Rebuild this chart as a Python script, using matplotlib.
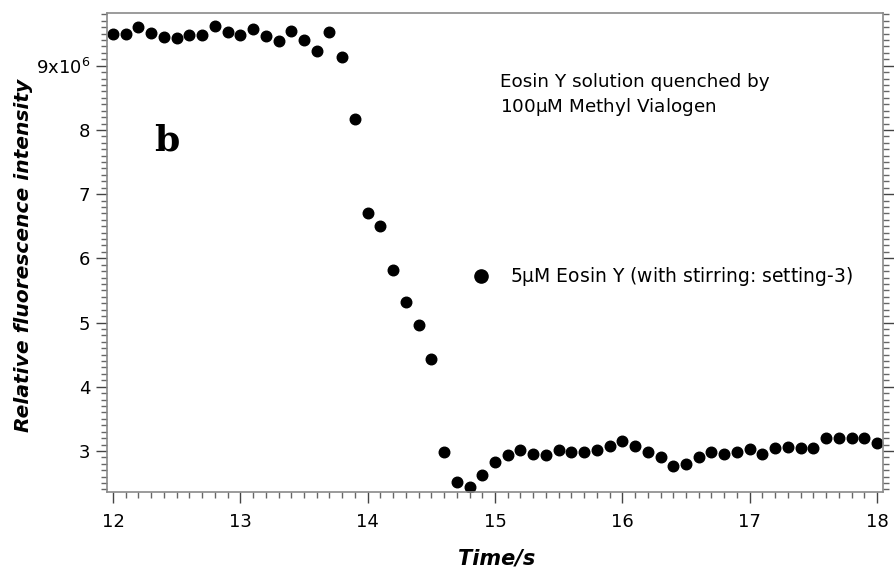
import matplotlib
matplotlib.use("Agg")
import matplotlib.pyplot as plt
from matplotlib.ticker import MultipleLocator, FixedLocator, FixedFormatter
from matplotlib.lines import Line2D

# Time axis (s) and fluorescence intensity (units of 1e6)
time_s = [12.0, 12.1, 12.2, 12.3, 12.4, 12.5, 12.6, 12.7, 12.8, 12.9,
          13.0, 13.1, 13.2, 13.3, 13.4, 13.5, 13.6, 13.7, 13.8, 13.9,
          14.0, 14.1, 14.2, 14.3, 14.4, 14.5, 14.6, 14.7, 14.8, 14.9,
          15.0, 15.1, 15.2, 15.3, 15.4, 15.5, 15.6, 15.7, 15.8, 15.9,
          16.0, 16.1, 16.2, 16.3, 16.4, 16.5, 16.6, 16.7, 16.8, 16.9,
          17.0, 17.1, 17.2, 17.3, 17.4, 17.5, 17.6, 17.7, 17.8, 17.9,
          18.0]
intensity_1e6 = [9.50, 9.49, 9.61, 9.51, 9.45, 9.43, 9.48, 9.48, 9.62, 9.52,
                 9.48, 9.57, 9.46, 9.38, 9.54, 9.40, 9.23, 9.53, 9.14, 8.17,
                 6.71, 6.50, 5.82, 5.32, 4.96, 4.43, 2.98, 2.52, 2.44, 2.62,
                 2.83, 2.94, 3.01, 2.96, 2.94, 3.01, 2.99, 2.99, 3.02, 3.08,
                 3.16, 3.07, 2.99, 2.91, 2.77, 2.80, 2.91, 2.99, 2.95, 2.99,
                 3.03, 2.96, 3.05, 3.06, 3.04, 3.05, 3.20, 3.20, 3.20, 3.20,
                 3.12]

x_ticks = [12, 13, 14, 15, 16, 17, 18]
y_ticks = [3, 4, 5, 6, 7, 8, 9]
y_tick_labels = ["3", "4", "5", "6", "7", "8", r"9x10$^{6}$"]

series_label = "5$\\mu$M Eosin Y (with stirring: setting-3)"
note_text = "Eosin Y solution quenched by\n100$\\mu$M Methyl Vialogen"
panel_letter = "b"

plt.rcParams["font.family"] = ["DejaVu Sans"]
plt.rcParams["mathtext.default"] = "regular"

fig = plt.figure(figsize=(8.94, 5.71), dpi=100)
ax = fig.add_axes([0.1197, 0.1384, 0.868, 0.8388])

ax.plot(time_s, intensity_1e6, linestyle="none", marker="o",
        markersize=7.6, color="black")

ax.set_xlim(11.953, 18.047)
ax.set_ylim(2.361, 9.821)

spine_col = "#8a8a8a"
for side in ["left", "bottom", "top", "right"]:
    ax.spines[side].set_color(spine_col)
    ax.spines[side].set_linewidth(1.2)

ax.xaxis.set_major_locator(FixedLocator(x_ticks))
ax.xaxis.set_minor_locator(MultipleLocator(0.1))
ax.yaxis.set_major_locator(FixedLocator(y_ticks))
ax.yaxis.set_major_formatter(FixedFormatter(y_tick_labels))
ax.yaxis.set_minor_locator(MultipleLocator(0.1))

ax.tick_params(axis="both", which="major", direction="out", length=8,
               width=1, color="#444444", labelsize=13, labelcolor="black")
ax.tick_params(axis="both", which="minor", direction="out", length=4,
               width=1, color="#666666")
ax.tick_params(axis="x", which="major", pad=7)
ax.tick_params(axis="y", which="major", pad=4)
ax.tick_params(axis="y", which="both", right=True, labelright=False)
ax.tick_params(axis="x", which="both", top=False)

ax.set_xlabel("Time/s", fontsize=15, fontstyle="italic", fontweight="bold",
              va="center")
ax.xaxis.set_label_coords(0.5026, -0.138)
ax.set_ylabel("Relative fluorescence intensity", fontsize=14.6,
              fontstyle="italic", fontweight="bold", va="center")
ax.yaxis.set_label_coords(-0.107, 0.493)

ax.text(12.42, 7.84, panel_letter, fontsize=26, fontweight="bold",
        family="DejaVu Serif", ha="center", va="center")
ax.text(15.04, 8.535, note_text, fontsize=13.2, ha="left", va="center",
        linespacing=1.3)

handle = Line2D([], [], linestyle="none", marker="o", markersize=9.5,
                color="black")
ax.legend([handle], [series_label], loc="center left",
          bbox_to_anchor=(0.470, 0.449), frameon=False, fontsize=13.5,
          handletextpad=1.05, handlelength=1.0, borderpad=0,
          borderaxespad=0)

fig.savefig("out.png", dpi=100)
